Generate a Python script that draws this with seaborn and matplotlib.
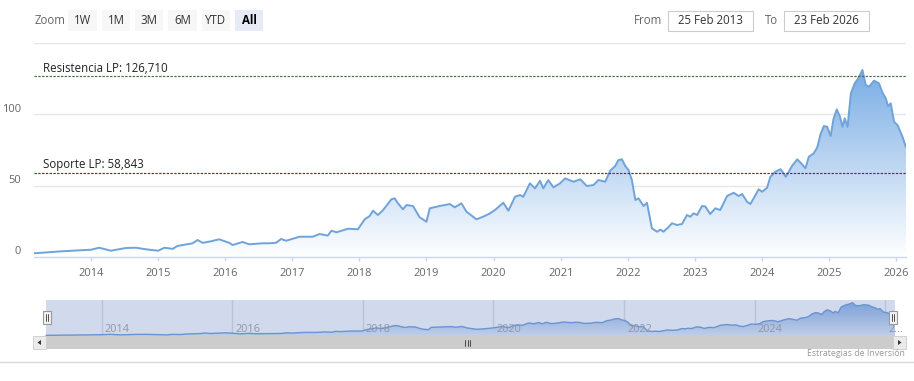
import numpy as np
import pandas as pd
import matplotlib
matplotlib.use("Agg")
import matplotlib.pyplot as plt
import matplotlib.dates as mdates
from matplotlib.patches import Rectangle, Polygon
from matplotlib.lines import Line2D
from matplotlib.colors import LinearSegmentedColormap
import seaborn as sns

# ---------------- data ----------------
dates = [
    "2013-02-25", "2013-07-27", "2014-01-01", "2014-02-15", "2014-04-19", "2014-07-10",
    "2014-09-03", "2014-10-27", "2015-01-01", "2015-02-05", "2015-03-22", "2015-04-16",
    "2015-07-08", "2015-08-04", "2015-09-01", "2015-10-16", "2015-11-30", "2016-01-24",
    "2016-02-11", "2016-04-05", "2016-05-11", "2016-07-23", "2016-08-29", "2016-10-05",
    "2016-11-01", "2016-11-28", "2017-02-10", "2017-04-23", "2017-05-29", "2017-07-13",
    "2017-08-02", "2017-08-29", "2017-10-31", "2017-12-24", "2018-01-30", "2018-02-26",
    "2018-03-16", "2018-04-12", "2018-05-10", "2018-06-24", "2018-07-12", "2018-07-30",
    "2018-08-26", "2018-09-14", "2018-10-20", "2018-11-25", "2019-01-01", "2019-01-19",
    "2019-03-14", "2019-05-08", "2019-06-04", "2019-07-10", "2019-08-07", "2019-09-30",
    "2019-11-05", "2019-12-12", "2020-01-09", "2020-02-23", "2020-03-22", "2020-04-27",
    "2020-05-24", "2020-06-11", "2020-07-17", "2020-08-14", "2020-09-10", "2020-09-28",
    "2020-10-25", "2020-11-22", "2020-12-28", "2021-01-25", "2021-03-11", "2021-04-17",
    "2021-05-23", "2021-06-28", "2021-07-25", "2021-08-31", "2021-09-27", "2021-10-24",
    "2021-11-11", "2021-11-30", "2021-12-18", "2022-01-05", "2022-01-23", "2022-02-11",
    "2022-02-28", "2022-03-28", "2022-04-15", "2022-05-12", "2022-06-09", "2022-06-27",
    "2022-07-14", "2022-08-11", "2022-08-29", "2022-09-26", "2022-10-23", "2022-11-19",
    "2022-12-07", "2022-12-25", "2023-01-13", "2023-02-09", "2023-02-27", "2023-03-25",
    "2023-04-22", "2023-05-19", "2023-06-25", "2023-07-31", "2023-08-27", "2023-09-15",
    "2023-10-12", "2023-10-30", "2023-11-17", "2023-12-14", "2024-01-02", "2024-01-29",
    "2024-02-16", "2024-03-14", "2024-04-11", "2024-05-10", "2024-06-14", "2024-07-11",
    "2024-08-02", "2024-08-25", "2024-09-12", "2024-10-09", "2024-10-28", "2024-11-15",
    "2024-12-03", "2024-12-21", "2025-01-09", "2025-01-24", "2025-02-11", "2025-03-01",
    "2025-03-14", "2025-03-27", "2025-04-11", "2025-04-29", "2025-05-20", "2025-06-08",
    "2025-07-01", "2025-07-19", "2025-08-06", "2025-09-02", "2025-09-29", "2025-10-18",
    "2025-11-05", "2025-11-17", "2025-12-02", "2025-12-20", "2026-01-08", "2026-02-04",
    "2026-02-23",
]
prices = [
    2.6, 4.0, 5.1, 6.5, 4.4, 6.3,
    6.5, 5.4, 4.4, 6.5, 5.7, 7.7,
    9.6, 11.9, 9.9, 11.0, 12.4, 9.9,
    8.4, 10.5, 8.9, 9.6, 9.6, 10.0,
    12.6, 11.4, 14.2, 14.2, 16.1, 15.0,
    18.4, 17.3, 19.8, 19.4, 26.4, 28.7,
    32.4, 29.4, 32.9, 40.4, 41.1, 37.6,
    33.4, 36.4, 35.7, 27.8, 24.7, 34.1,
    35.7, 37.1, 34.8, 37.6, 31.7, 26.4,
    28.2, 30.5, 32.9, 38.0, 32.4, 42.2,
    43.4, 42.2, 51.6, 48.1, 53.4, 48.1,
    53.9, 48.8, 51.6, 55.1, 52.7, 54.4,
    49.7, 50.4, 53.9, 52.7, 60.4, 63.7,
    67.9, 68.4, 63.7, 60.9, 53.9, 39.9,
    41.1, 35.7, 38.0, 20.1, 17.7, 19.2,
    17.7, 21.0, 23.6, 22.4, 23.1, 29.4,
    28.2, 30.6, 29.4, 35.7, 35.4, 30.1,
    34.1, 32.9, 42.7, 45.0, 42.7, 44.1,
    38.7, 37.1, 41.1, 47.4, 45.7, 48.5,
    56.2, 59.7, 61.5, 56.2, 64.0, 68.4,
    65.6, 62.1, 70.2, 72.6, 76.8, 86.1,
    91.7, 91.2, 84.7, 96.4, 103.4, 98.2,
    91.2, 97.1, 91.2, 114.6, 121.6, 125.1,
    131.0, 120.4, 119.3, 123.5, 121.6, 115.1,
    111.1, 105.7, 107.6, 94.7, 92.4, 84.2,
    76.8,
]
resistance_value = 126.710
support_value = 58.843
resistance_label = "Resistencia LP: 126,710"
support_label = "Soporte LP: 58,843"
year_ticks = list(range(2014, 2027))
nav_years = list(range(2014, 2027, 2))
y_ticks = [0, 50, 100]
zoom_buttons = ["1W", "1M", "3M", "6M", "YTD", "All"]
from_date = "25 Feb 2013"
to_date = "23 Feb 2026"
credit = "Estrategias de Inversión"

# ---------------- setup ----------------
sns.set_theme(style="white")
plt.rcParams['font.family'] = ['Open Sans', 'DejaVu Sans']

W, H = 914, 381
fig = plt.figure(figsize=(W / 100, H / 100), dpi=100)
fig.patch.set_facecolor("white")


def rect(x0, y0, x1, y1, **kw):
    r = Rectangle((x0 / W, 1 - y1 / H), (x1 - x0) / W, (y1 - y0) / H,
                  transform=fig.transFigure, **kw)
    fig.add_artist(r)


def txt(x, y, s, **kw):
    fig.text(x / W, 1 - y / H, s, **kw)


def fline(xs, ys, **kw):
    fig.add_artist(Line2D([x / W for x in xs], [1 - y / H for y in ys],
                          transform=fig.transFigure, **kw))


df = pd.DataFrame({"date": pd.to_datetime(dates), "price": prices})
xnum = mdates.date2num(df["date"])
pmax = df["price"].max()

line_color = "#6fa3d9"
cmap = LinearSegmentedColormap.from_list("g", ["#ffffff", "#79ade5"])

# ---------------- main chart ----------------
ax = fig.add_axes([34 / W, 1 - 257 / H, (906 - 34) / W, (257 - 42.8) / H])
ax.set_facecolor("white")
sns.lineplot(data=df, x="date", y="price", ax=ax, color=line_color, lw=1.4, zorder=4)
poly = ax.fill_between(df["date"], 0, df["price"], color="none", lw=0)
grad = np.linspace(0, 1, 256).reshape(-1, 1)
im = ax.imshow(grad, cmap=cmap, aspect="auto", origin="lower",
               extent=[xnum.min(), xnum.max(), 0, pmax], zorder=2)
im.set_clip_path(poly.get_paths()[0], ax.transData)

ax.set_xlim(df["date"].min(), df["date"].max())
ax.set_ylim(0, 150)
ax.set_yticks([0, 50, 100, 150])
ax.set_yticklabels([])
ax.yaxis.grid(True, color="#e6e6e6", lw=1)
ax.xaxis.grid(False)
ax.set_axisbelow(True)
for s in ["top", "right", "left"]:
    ax.spines[s].set_visible(False)
ax.spines["bottom"].set_color("#ccd6eb")
ax.spines["bottom"].set_linewidth(1)
ax.spines["bottom"].set_zorder(5)
ax.set_xticks(pd.to_datetime([f"{y}-01-01" for y in year_ticks]))
ax.set_xticklabels([str(y) for y in year_ticks])
ax.tick_params(axis="x", length=3, width=1, color="#ccd6eb", labelsize=8,
               labelcolor="#666666", pad=5, direction="out", bottom=True)
ax.tick_params(axis="y", length=0)
ax.set_xlabel("")
ax.set_ylabel("")

for v in y_ticks:
    ax.annotate(str(v), xy=(0, v), xycoords=("axes fraction", "data"),
                xytext=(-13, 5), textcoords="offset pixels",
                ha="right", va="center", fontsize=8, color="#666666")

ax.axhline(resistance_value, color="#4a6a4a", lw=0.85, ls=(0, (2, 1.2)), zorder=5)
ax.axhline(support_value, color="#7a2424", lw=0.85, ls=(0, (2, 1.2)), zorder=5)
ax.annotate(resistance_label, xy=(0, resistance_value), xycoords=("axes fraction", "data"),
            xytext=(9, 1.5), textcoords="offset pixels", ha="left", va="bottom",
            fontsize=8.3, color="#222222", zorder=6)
ax.annotate(support_label, xy=(0, support_value), xycoords=("axes fraction", "data"),
            xytext=(9, 1.5), textcoords="offset pixels", ha="left", va="bottom",
            fontsize=8.3, color="#222222", zorder=6)

# ---------------- navigator ----------------
nav = fig.add_axes([33 / W, 1 - 336 / H, (906 - 33) / W, 36 / H])
nav.set_facecolor("white")
start, end = df["date"].min(), df["date"].max()
nav.axvspan(start, end, color=(102 / 255, 133 / 255, 194 / 255, 0.3), lw=0, zorder=5)
for yv in nav_years:
    nav.axvline(pd.Timestamp(f"{yv}-01-01"), color="#e0e0e0", lw=1, zorder=1)
sns.lineplot(data=df, x="date", y="price", ax=nav, color="#6b9bd8", lw=1.0, zorder=4)
npoly = nav.fill_between(df["date"], 0, df["price"], color="none", lw=0)
nim = nav.imshow(grad, cmap=LinearSegmentedColormap.from_list("n", ["#e8eef8", "#86aee4"]),
                 aspect="auto", origin="lower",
                 extent=[xnum.min(), xnum.max(), 0, pmax], zorder=3)
nim.set_clip_path(npoly.get_paths()[0], nav.transData)
nav.set_xlim(start - pd.Timedelta(days=73), end + pd.Timedelta(days=62))
nav.set_ylim(0, 142)
nav.set_xticks([])
nav.set_yticks([])
nav.set_xlabel("")
nav.set_ylabel("")
for s in nav.spines.values():
    s.set_visible(False)
for yv in nav_years[:-1]:
    nav.annotate(str(yv), xy=(pd.Timestamp(f"{yv}-01-01"), 0), xycoords="data",
                 xytext=(3, 7), textcoords="offset pixels", ha="left", va="center",
                 fontsize=7.8, color="#8f96a8", zorder=7)
nav.annotate("2…", xy=(pd.Timestamp(f"{nav_years[-1]}-01-01"), 0), xycoords="data",
             xytext=(3, 7), textcoords="offset pixels", ha="left", va="center",
             fontsize=7.8, color="#8f96a8", zorder=7)

# navigator handles
for hx in (47, 893):
    rect(hx - 4, 311, hx + 4, 324, facecolor="#f2f2f2", edgecolor="#999999", lw=0.8, zorder=10)
    fline([hx - 1, hx - 1], [314, 321], color="#333333", lw=0.6, zorder=11)
    fline([hx + 1, hx + 1], [314, 321], color="#333333", lw=0.6, zorder=11)

# ---------------- scrollbar ----------------
rect(33, 336, 906, 349, facecolor="#f2f2f2", edgecolor="none")
rect(46, 336, 893, 349, facecolor="#cccccc", edgecolor="none")
rect(33, 336, 46, 349, facecolor="#ebebeb", edgecolor="#cccccc", lw=0.6)
rect(893, 336, 906, 349, facecolor="#ebebeb", edgecolor="#cccccc", lw=0.6)
fig.add_artist(Polygon([(41 / W, 1 - 340 / H), (41 / W, 1 - 345 / H), (37.5 / W, 1 - 342.5 / H)],
                       closed=True, transform=fig.transFigure, facecolor="#333333", edgecolor="none"))
fig.add_artist(Polygon([(898 / W, 1 - 340 / H), (898 / W, 1 - 345 / H), (901.5 / W, 1 - 342.5 / H)],
                       closed=True, transform=fig.transFigure, facecolor="#333333", edgecolor="none"))
for rx in (465, 467.5, 470):
    fline([rx, rx], [339.5, 345.5], color="#333333", lw=0.6)

# ---------------- range selector ----------------
txt(35, 20.5, "Zoom", ha="left", va="center", fontsize=8.3, color="#666666")
btn_x = [(68, 97), (102, 130), (135, 163), (168, 197), (202, 230), (235, 263)]
for (x0, x1), lab in zip(btn_x, zoom_buttons):
    sel = lab == "All"
    rect(x0, 10, x1, 31, facecolor="#e6ebf5" if sel else "#f7f7f7", edgecolor="none")
    txt((x0 + x1) / 2, 20.5, lab, ha="center", va="center", fontsize=8.3,
        color="#000000" if sel else "#333333", fontweight="bold" if sel else "normal")

txt(662, 20.5, "From", ha="right", va="center", fontsize=8.3, color="#666666")
rect(668, 11, 753, 31, facecolor="white", edgecolor="#cccccc", lw=0.8)
txt(710.5, 20.5, from_date, ha="center", va="center", fontsize=8.3, color="#333333")
txt(778, 20.5, "To", ha="right", va="center", fontsize=8.3, color="#666666")
rect(784, 11, 869, 31, facecolor="white", edgecolor="#cccccc", lw=0.8)
txt(826.5, 20.5, to_date, ha="center", va="center", fontsize=8.3, color="#333333")

# ---------------- footer ----------------
txt(905, 354, credit, ha="right", va="center", fontsize=6.3, color="#999999")
fline([0, 914], [362, 362], color="#d8d8d8", lw=1)

fig.savefig("out.png", dpi=100, facecolor="white")
